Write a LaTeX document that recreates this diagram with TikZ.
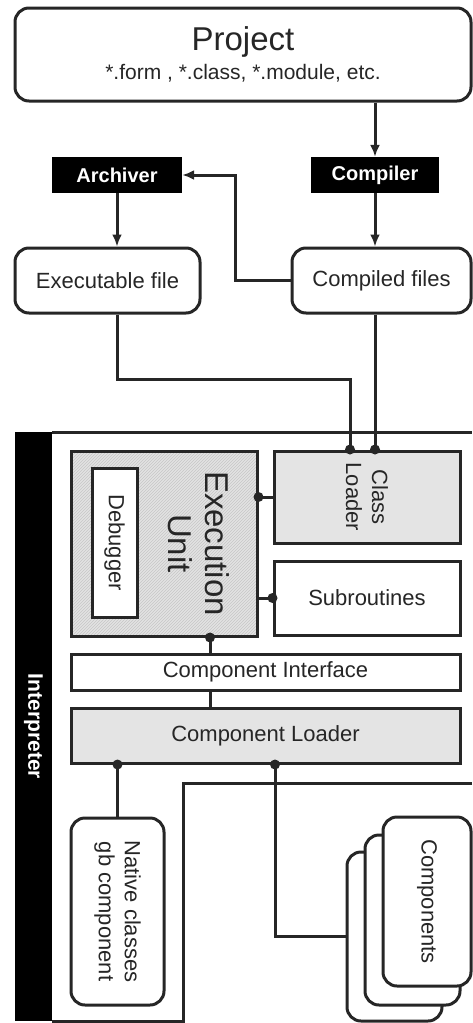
\documentclass[tikz,border=0pt]{standalone}
\usepackage{fontspec}
\setmainfont{Liberation Sans}
\usetikzlibrary{positioning,arrows.meta,calc,patterns}
\definecolor{PanelGray}{RGB}{228,228,228}
\definecolor{LineGray}{RGB}{38,38,38}
\newcommand{\lblfont}{\fontsize{22}{26}\selectfont}
\newcommand{\boldfont}{\bfseries\fontsize{20}{24}\selectfont}
\newcommand{\bigfont}{\fontsize{33}{37}\selectfont}
\tikzset{
  basebox/.style={
    draw=LineGray,
    line width=3pt,
    inner sep=0pt,
    align=center,
    text=LineGray,
    font=\lblfont
  },
  roundbox/.style={basebox, fill=white, rounded corners=14pt},
  plainbox/.style={basebox, fill=white},
  greybox/.style={basebox, fill=PanelGray},
  execbox/.style={basebox, preaction={fill=gray!22}, pattern=north east lines, pattern color=gray!45},
  blackbox/.style={fill=black, text=white, inner sep=0pt, font=\boldfont},
  link/.style={line width=3pt, draw=LineGray},
  arrow/.style={link, -{Latex[length=12pt,width=10pt]}}
}

\begin{document}
\begin{tikzpicture}[x=1pt,y=-1pt]
    \useasboundingbox (0,0) rectangle (472,1023);
    % build chain
    \node[roundbox, minimum width=456, minimum height=93] (project) at (243,54.5)
      {{\fontsize{33}{36}\selectfont Project}\\[3pt]{\fontsize{21}{24}\selectfont *.form , *.class, *.module, etc.}};
    \node[blackbox, minimum width=130, minimum height=36] (archiver) at (117,175) {Archiver};
    \node[blackbox, minimum width=128, minimum height=36] (compiler) at (375,175) {Compiler};
    \node[roundbox, minimum width=185, minimum height=65] (execfile) at (107.5,280.5) {Executable file};
    \node[roundbox, minimum width=179, minimum height=65] (compiled) at (381.5,280.5) {Compiled files};
    \draw[arrow] (project.south -| compiler) -- (compiler);
    \draw[arrow] (compiler) -- (compiler |- compiled.north);
    \draw[arrow] (archiver) -- (archiver |- execfile.north);
    \draw[arrow] (compiled.west) -- ++(-55,0) |- (archiver.east);
    % interpreter
    \node[blackbox, font=\bfseries\fontsize{21}{24}\selectfont, minimum width=589, minimum height=37, rotate=-90] (interp) at (33.5,726.5) {Interpreter};
    \draw[link] (52,432) -- (472,432);
    \draw[link] (472,783) -- (183,783) -- (183,1021) -- (52,1021);
    \node[execbox, minimum width=186, minimum height=185] (execunit) at (164,543.5) {};
    \node[plainbox, minimum width=149, minimum height=45, rotate=-90] (debugger) at (114.5,542.5) {Debugger};
    \node[rotate=-90, font=\bigfont, text=LineGray, align=center] (exectext) at (199,543.5) {Execution\\Unit};
    \node[greybox, minimum width=92, minimum height=186, rotate=-90] (classloader) at (367,497) {Class\\Loader};
    \node[plainbox, minimum width=186, minimum height=74] (subroutines) at (367,598) {Subroutines};
    \node[plainbox, minimum width=389, minimum height=36] (compiface) at (265.5,672) {Component Interface};
    \node[greybox, minimum width=389, minimum height=55] (comploader) at (265.5,735.5) {Component Loader};
    \node[roundbox, minimum width=187, minimum height=93, rotate=-90] (native) at (117.5,911.5) {Native classes\\gb component};
    \node[roundbox, minimum width=95, minimum height=169] (cardback) at (394.5,936.5) {};
    \node[roundbox, minimum width=95, minimum height=170] (cardmid) at (412.5,920) {};
    \node[roundbox, minimum width=169, minimum height=88, rotate=-90] (components) at (427,901.5) {Components};
    % links into the interpreter
    \coordinate (clin) at ($(classloader.west)+(-17,0)$);
    \coordinate (eubot) at ($(execunit.south)+(46,0)$);
    \coordinate (cltap) at ($(comploader.south)+(9.5,0)$);
    \draw[link] (archiver |- execfile.south) -- ++(0,65) -| (clin);
    \fill[LineGray] (clin) circle (5);
    \draw[link] (compiled.south -| compiler) -- (compiler |- classloader.west);
    \fill[LineGray] (compiler |- classloader.west) circle (5);
    \draw[link] (execunit.east |- classloader) -- (classloader);
    \fill[LineGray] (execunit.east |- classloader) circle (5);
    \draw[link] (execunit.east |- subroutines) -- (subroutines.west);
    \fill[LineGray] (subroutines.west) circle (5);
    \draw[link] (eubot) -- (eubot |- compiface.north);
    \draw[link] (eubot |- compiface.south) -- (eubot |- comploader.north);
    \fill[LineGray] (eubot) circle (5);
    \draw[link] (native.west |- comploader.south) -- (native.west);
    \fill[LineGray] (native.west |- comploader.south) circle (5);
    \draw[link] (cltap) |- (cardback.west);
    \fill[LineGray] (cltap) circle (5);
\end{tikzpicture}
\end{document}
